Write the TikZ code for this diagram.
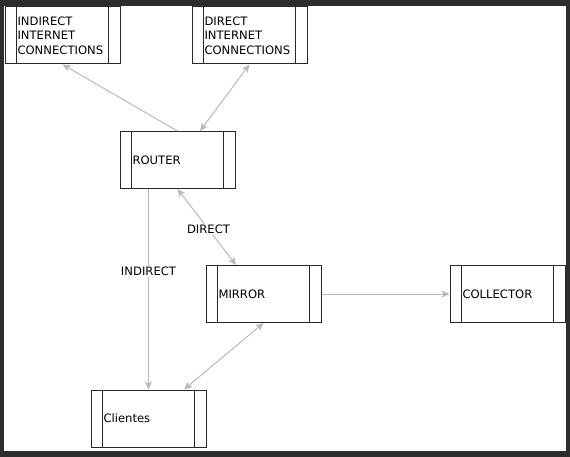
\documentclass[tikz,border=0pt]{standalone}
\usepackage{fontspec}
\setmainfont{DejaVu Sans}
\usepackage{tikz}
\usetikzlibrary{arrows.meta}
\definecolor{frame}{RGB}{45, 45, 45}
\definecolor{edge}{RGB}{40, 40, 40}
\definecolor{wire}{RGB}{185, 185, 185}

\tikzset{
  block/.style={draw=edge, line width=1pt, minimum width=115pt, minimum height=57pt,
    text width=90pt, inner xsep=12.5pt, align=left,
    font=\fontsize{11.6pt}{14.5pt}\selectfont,
    path picture={
      \draw[edge, line width=1pt] ([xshift=11.5pt]path picture bounding box.north west) -- ([xshift=11.5pt]path picture bounding box.south west);
      \draw[edge, line width=1pt] ([xshift=-11.5pt]path picture bounding box.north east) -- ([xshift=-11.5pt]path picture bounding box.south east);
    }},
  wire/.style={draw=wire, line width=1pt},
  tip/.style={-{Stealth[length=8pt, width=7pt, inset=2pt]}},
  both/.style={{Stealth[length=8pt, width=7pt, inset=2pt]}-{Stealth[length=8pt, width=7pt, inset=2pt]}},
  tag/.style={fill=white, inner sep=1pt, font=\fontsize{11.6pt}{14pt}\selectfont}
}

\begin{document}
\begin{tikzpicture}[x=1pt, y=-1pt]
  % frame
  \fill[frame] (0, 0) rectangle (570, 457);
  \fill[white] (4, 6) rectangle (566, 451);

  \node[block] (indirect) at (62.5, 35.5) {INDIRECT\\INTERNET\\CONNECTIONS};
  \node[block] (direct) at (249.5, 35.5) {DIRECT\\INTERNET\\CONNECTIONS};
  \node[block] (router) at (177.5, 160) {ROUTER};
  \node[block] (mirror) at (263.5, 294) {MIRROR};
  \node[block] (collector) at (507.5, 294) {COLLECTOR};
  \node[block] (clientes) at (148.5, 418.5) {Clientes};

  \draw[wire, tip] (router.north) -- (indirect.south);
  \draw[wire, both] ([xshift=22.5pt]router.north) -- (direct.south);
  \draw[wire, tip] (router.south -| clientes.north) -- node[tag, pos=0.41] (lblindirect) {INDIRECT} (clientes.north);
  \draw[wire, both] (router.south) -- node[tag, pos=0.53] (lbldirect) {DIRECT} ([xshift=-27.5pt]mirror.north);
  \draw[wire, tip] (mirror.east) -- (collector.west);
  \draw[wire, both] (mirror.south) -- ([xshift=35.5pt]clientes.north);
\end{tikzpicture}
\end{document}
